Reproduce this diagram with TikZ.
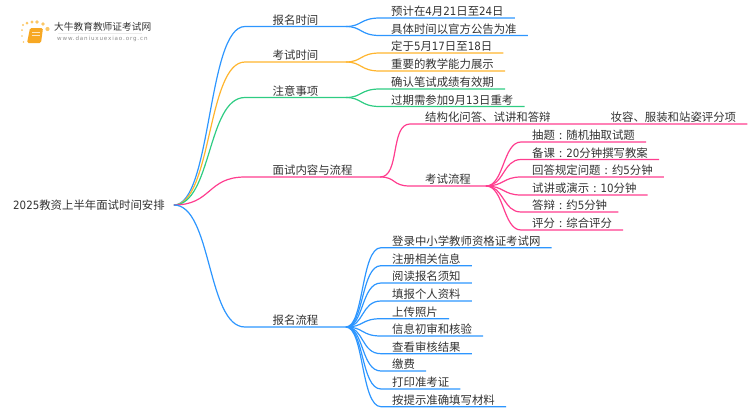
\documentclass[tikz,border=0pt]{standalone}
\usepackage{fontspec}
\setmainfont{Noto Sans CJK SC}
\newfontfamily\dgt{DejaVu Sans}[FakeStretch=0.9]
\newfontfamily\logofont{DejaVu Sans}[LetterSpace=15]
\usepackage{xcolor}
\usetikzlibrary{positioning}
\definecolor{blueline}{HTML}{2D96FF}
\definecolor{orangeline}{HTML}{FFB52E}
\definecolor{greenline}{HTML}{2ECC83}
\definecolor{pinkline}{HTML}{FF3D8F}
\definecolor{textgray}{HTML}{333333}
\definecolor{bookfill}{HTML}{F7A823}
\definecolor{sundot}{HTML}{FBC766}
\newcommand{\dg}[1]{{\dgt #1}}
\newcommand{\cln}{\makebox[1em][c]{:}}

\begin{document}
\begin{tikzpicture}[x=1pt, y=-1pt, every node/.style={text=textgray, font=\fontsize{11.4pt}{13pt}\selectfont}]
	\tikzstyle{rootnode}=[inner xsep=9pt, inner ysep=0pt, text height=12.3pt, text depth=4.1pt, anchor=west]
	\tikzstyle{branch}=[inner xsep=27.5pt, inner ysep=0pt, text depth=2pt, anchor=south west]
	\tikzstyle{middle}=[inner xsep=15pt, inner ysep=0pt, text depth=2pt, anchor=south west]
	\tikzstyle{leaf}=[inner xsep=11pt, inner ysep=0pt, text depth=2pt, anchor=south west]
	\tikzstyle{link}=[line width=1.2pt]
	
	\useasboundingbox (0,0) rectangle (750,410);
	\node [rootnode] (root) at (4,205) {\dg{2025}教资上半年面试时间安排};
	
	%% first level
	\node [branch] (T1) at (245,26.5) {报名时间};
	\node [branch] (T2) at (245,62) {考试时间};
	\node [branch] (T3) at (245,97.5) {注意事项};
	\node [branch] (T4) at (245,177) {面试内容与流程};
	\node [branch] (T5) at (245,327) {报名流程};
	
	\foreach \t/\c in {T1/blueline,T2/orangeline,T3/greenline,T4/pinkline,T5/blueline}
	\draw [link, \c] (root.east) .. controls +(38,0) and +(-38,0) .. (\t.south west) -- (\t.south east);
	
	%% leaves of the upper branches
	\node [leaf] (A1) at (380,18) {预计在\dg{4}月\dg{21}日至\dg{24}日};
	\node [leaf] (A2) at (380,35.5) {具体时间以官方公告为准};
	\node [leaf] (B1) at (380,53) {定于\dg{5}月\dg{17}日至\dg{18}日};
	\node [leaf] (B2) at (380,71) {重要的教学能力展示};
	\node [leaf] (C1) at (380,89) {确认笔试成绩有效期};
	\node [leaf] (C2) at (380,106.5) {过期需参加\dg{9}月\dg{13}日重考};
	
	\foreach \p/\t/\c in {T1/A1/blueline,T1/A2/blueline,T2/B1/orangeline,T2/B2/orangeline,T3/C1/greenline,T3/C2/greenline}
	\draw [link, \c] (\p.south east) .. controls +(16,0) and +(-20,0) .. (\t.south west) -- (\t.south east);
	
	%% interview branch
	\node [middle] (D1) at (410,124) {结构化问答、试讲和答辩};
	\node [leaf] (D2) at (599.5,124) {妆容、服装和站姿评分项};
	\node [middle] (D3) at (410,186) {考试流程};
	\draw [link, pinkline] (T4.south east) .. controls +(20,0) and +(-20,0) .. (D1.south west) -- (D2.south east);
	\draw [link, pinkline] (T4.south east) .. controls +(16,0) and +(-18,0) .. (D3.south west) -- (D3.south east);
	
	\node [leaf] (E1) at (521,142) {抽题\cln 随机抽取试题};
	\node [leaf] (E2) at (521,159.5) {备课\cln \dg{20}分钟撰写教案};
	\node [leaf] (E3) at (521,177) {回答规定问题\cln 约\dg{5}分钟};
	\node [leaf] (E4) at (521,195) {试讲或演示\cln \dg{10}分钟};
	\node [leaf] (E5) at (521,212) {答辩\cln 约\dg{5}分钟};
	\node [leaf] (E6) at (521,230) {评分\cln 综合评分};
	
	\foreach \t in {E1,E2,E3,E4,E5,E6}
	\draw [link, pinkline] (D3.south east) .. controls +(18,0) and +(-18,0) .. (\t.south west) -- (\t.south east);
	
	%% sign-up branch
	\node [leaf] (F1) at (381,247.7) {登录中小学教师资格证考试网};
	\node [leaf] (F2) at (381,265.7) {注册相关信息};
	\node [leaf] (F3) at (381,283) {阅读报名须知};
	\node [leaf] (F4) at (381,301) {填报个人资料};
	\node [leaf] (F5) at (381,318.7) {上传照片};
	\node [leaf] (F6) at (381,336) {信息初审和核验};
	\node [leaf] (F7) at (381,353.7) {查看审核结果};
	\node [leaf] (F8) at (381,371) {缴费};
	\node [leaf] (F9) at (381,389) {打印准考证};
	\node [leaf] (F10) at (381,406.7) {按提示准确填写材料};
	
	\foreach \t in {F1,F2,F3,F4,F5,F6,F7,F8,F9,F10}
	\draw [link, blueline] (T5.south east) .. controls +(18,0) and +(-20,0) .. (\t.south west) -- (\t.south east);
	
	%% logo
	\foreach \x/\y/\r in {23/25/1.2,27/23/1.5,32/22/1.7,37/22/1.9,43/24/1.9,47.5/29/2.1,22/30/1,22/36/.9,23.5/42/.8}
	\fill [sundot] (\x,\y) circle (\r);
	\fill [bookfill, rounded corners=1.5pt] (30,28) -- (43,28) -- (41,43) -- (27,43) -- cycle;
	\draw [white!70!bookfill, line width=.6pt] (32,32) -- (40,32) (31.5,35) -- (39.5,35);
	\draw [black!8, line width=.6pt] (58,33) -- (142,33);
	\node [inner sep=0pt, anchor=west] (logotitle) at (54,27) {\fontsize{9.7pt}{11pt}\selectfont 大牛教育教师证考试网};
	\node [inner sep=0pt, anchor=west, text=black!45] (logourl) at (57,39) {\logofont\fontsize{5.6pt}{7pt}\selectfont www.daniuxuexiao.org.cn};
\end{tikzpicture}
\end{document}
